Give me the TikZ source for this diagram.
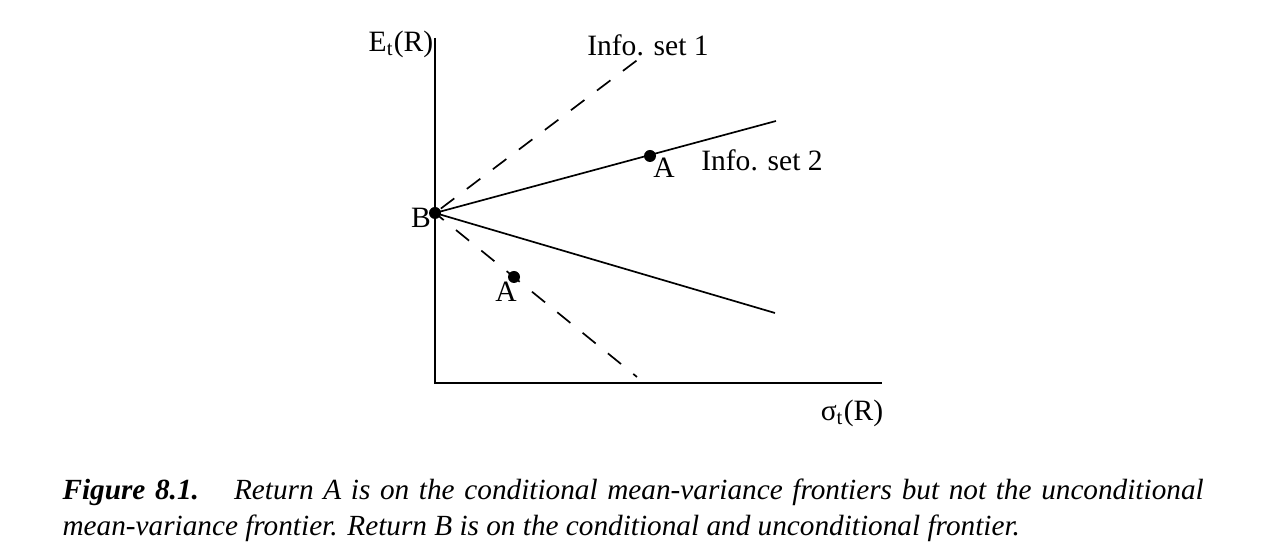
\documentclass[tikz,border=0pt]{standalone}
\usepackage{fontspec}
\setmainfont{Liberation Serif}
\begin{document}
\begin{tikzpicture}[x=0.0125cm,y=0.0125cm,every node/.style={font=\fontsize{10.5}{12}\selectfont}]
				\useasboundingbox (0,0) rectangle (1280,-542);
				% axes
				\coordinate (ytop) at (435,-38);
				\coordinate (orig) at (435,-383);
				\coordinate (xend) at (882,-383);
				\draw[line width=0.7pt] (ytop) -- (orig) -- (xend);
				% frontiers
				\coordinate (fb) at (435,-213);
				\coordinate (fs1) at (776,-121);
				\coordinate (fs2) at (775,-313);
				\coordinate (fd1) at (640,-58);
				\coordinate (fd2) at (637,-377);
				\draw[line width=0.6pt] (fs1) -- (fb) -- (fs2);
				\draw[line width=0.6pt,dash pattern=on 6pt off 5.6pt,dash phase=9pt] (fb) -- (fd1);
				\draw[line width=0.6pt,dash pattern=on 6pt off 5.6pt,dash phase=2pt] (fb) -- (fd2);
				\fill (fb) circle (6);
				\fill (650,-156) circle (6);
				\fill (514,-277) circle (6);
				% labels
				\node (ey) at (401,-44) {E\textsubscript{t}(R)};
				\node (sx) at (852,-413) {σ\textsubscript{t}(R)};
				\node (in1) at (648,-45) {Info. set 1};
				\node (in2) at (762,-160) {Info. set 2};
				\node (la1) at (664,-168) {A};
				\node (la2) at (506,-292) {A};
				\node (lb) at (421,-218) {B};
				% caption
				\node[anchor=base west,inner sep=0pt,font=\fontsize{10.4}{12.8}\selectfont\itshape] (cap1) at (62,-500)
					{\hbox to 14.26cm{\textbf{Figure 8.1.}\hspace{1.2em}Return A is on the conditional mean-variance frontiers but not the unconditional}};
				\node[anchor=base west,inner sep=0pt,font=\fontsize{10.4}{12.8}\selectfont\itshape] (cap2) at (62,-536)
					{mean-variance frontier. Return B is on the conditional and unconditional frontier.};
			\end{tikzpicture}
\end{document}
